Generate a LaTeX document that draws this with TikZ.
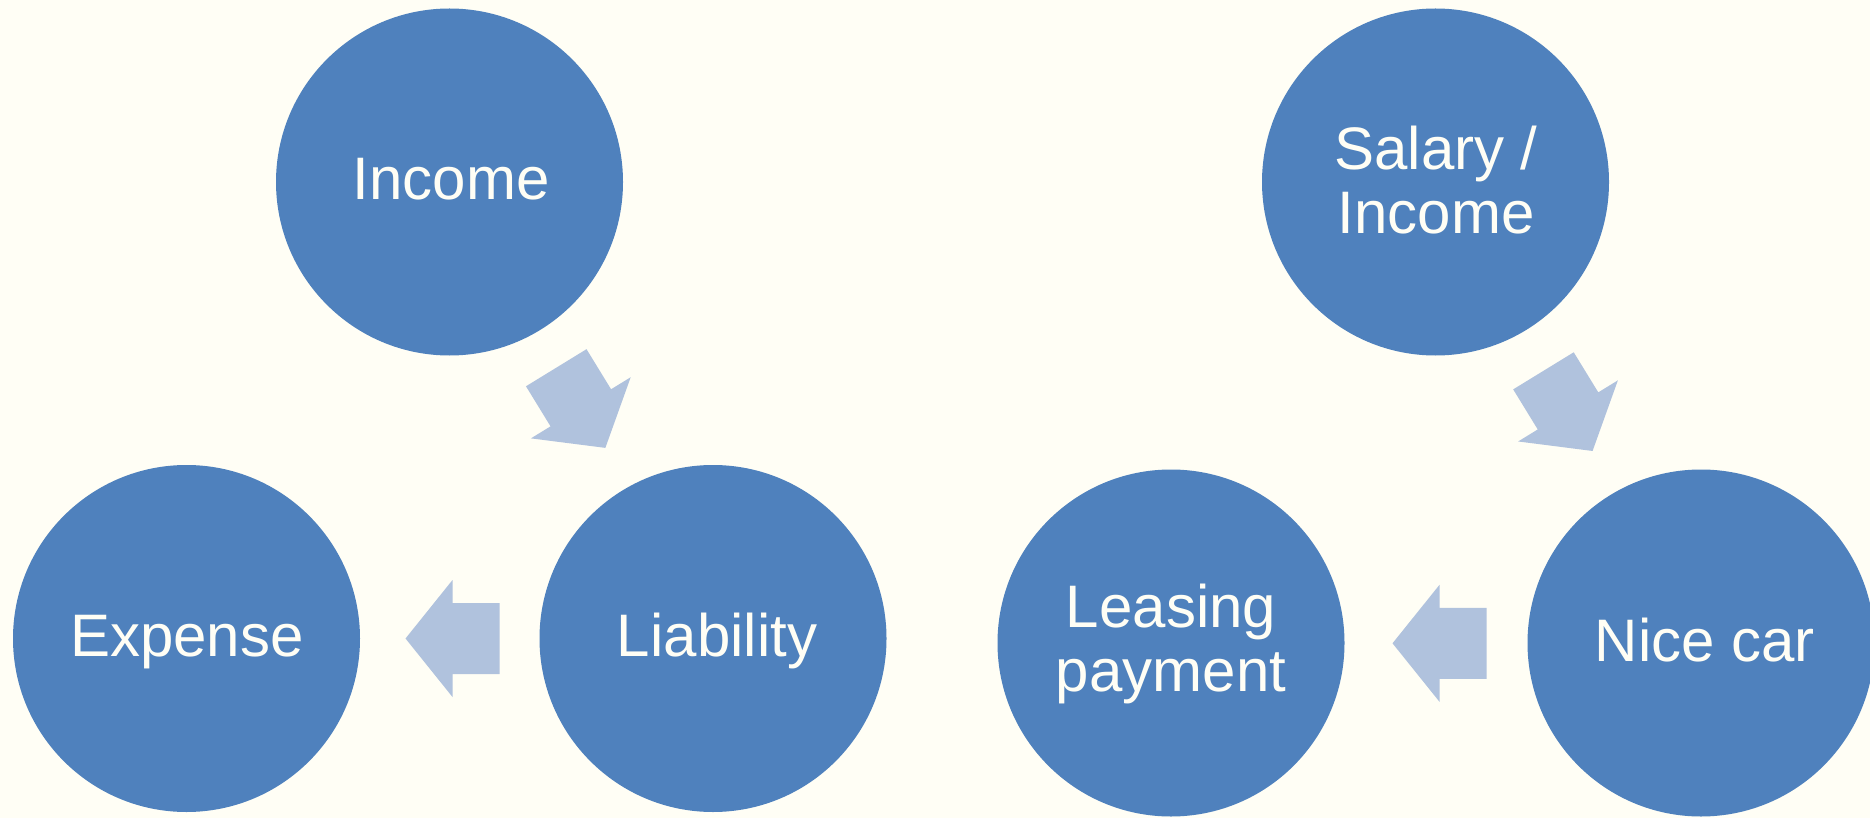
\documentclass[tikz,border=0pt]{standalone}
\usepackage{fontspec}
\setmainfont{Liberation Sans}
\definecolor{bgcol}{RGB}{255,254,245}
\definecolor{circcol}{RGB}{79,129,189}
\definecolor{arrcol}{RGB}{176,194,221}
\tikzset{
  circ/.style={circle, fill=circcol, draw=none, minimum size=347pt, inner sep=0pt},
  lbl/.style={text=bgcol, anchor=base, align=center, inner sep=0pt,
    font=\fontsize{60}{64}\selectfont},
  pics/blockarrow/.style={code={
    \fill[arrcol] (-47,-35.5) -- (0,-35.5) -- (0,-58.5) -- (47,0) -- (0,58.5)
      -- (0,35.5) -- (-47,35.5) -- cycle;}}
}
\begin{document}
\begin{tikzpicture}[x=1pt,y=-1pt]
\useasboundingbox (0,0) rectangle (1870,818);
\fill[bgcol] (0,0) rectangle (1870,818);
\clip (0,0) rectangle (1870,818);
% circles
\node[circ] (inc) at (449.5,182) {};
\node[circ] (exp) at (186.5,638.5) {};
\node[circ] (lia) at (713,638.5) {};
\node[circ] (sal) at (1435.5,182) {};
\node[circ] (lea) at (1171,643) {};
\node[circ] (car) at (1701,643) {};
% labels (base = baseline of the last line)
\node[lbl] (incT) at (451,200) {Income};
\node[lbl] (expT) at (187,656.5) {Expense};
\node[lbl] (liaT) at (717,656.5) {Liability};
\node[lbl] (salT) at (1436,233.5) {Salary /\\Income};
\node[lbl] (leaT) at (1171,691.5) {Leasing\\payment};
\node[lbl] (carT) at (1705,661) {Nice car};
% block arrows
\pic[shift={(580.8,407.8)}, rotate=-58.5] {blockarrow};
\pic[shift={(452.5,638.5)}, rotate=180] {blockarrow};
\pic[shift={(1568,410.9)}, rotate=-58.5] {blockarrow};
\pic[shift={(1439.5,643.3)}, rotate=180] {blockarrow};
\end{tikzpicture}
\end{document}
